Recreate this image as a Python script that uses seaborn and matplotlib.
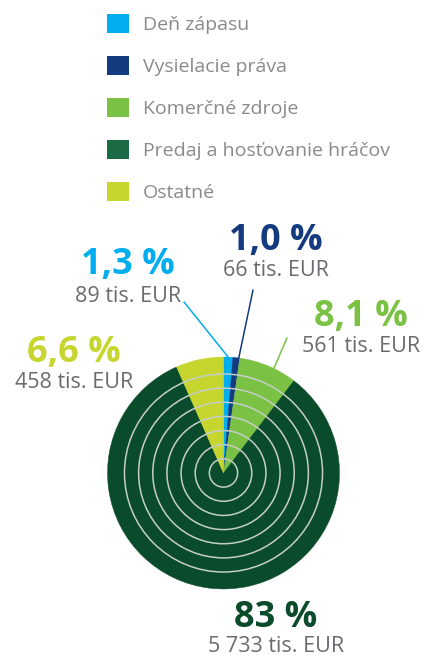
import numpy as np
import seaborn as sns
import matplotlib.pyplot as plt
from matplotlib.patches import Patch, Circle

# data
categories = ['Deň zápasu', 'Vysielacie práva', 'Komerčné zdroje',
              'Predaj a hosťovanie hráčov', 'Ostatné']
values_tis_eur = [89, 66, 561, 5733, 458]
pct_labels = ['1,3 %', '1,0 %', '8,1 %', '83 %', '6,6 %']
value_labels = ['89 tis. EUR', '66 tis. EUR', '561 tis. EUR', '5 733 tis. EUR', '458 tis. EUR']
colors = ['#00aeef', '#143a80', '#7bc143', '#0a4b2b', '#c6d62e']
legend_colors = ['#00aeef', '#143a80', '#7bc143', '#1a6b44', '#c6d62e']

sns.set_theme(style='white')
plt.rcParams['font.family'] = ['Open Sans', 'DejaVu Sans']

W, H = 424, 658
fig = plt.figure(figsize=(W / 100, H / 100), dpi=100)
ax = fig.add_axes([0, 0, 1, 1])


def Y(y):
    # pixel coords from top -> axis coords
    return H - y


cx, cy, R = 223.5, 473, 116
wedges, _ = ax.pie(values_tis_eur, colors=colors, startangle=90, counterclock=False,
                   center=(cx, Y(cy)), radius=R, frame=True,
                   wedgeprops=dict(linewidth=0))
for w, c in zip(wedges, colors):
    w.set_edgecolor(c)
    w.set_linewidth(0.3)
ax.set_xlim(0, W)
ax.set_ylim(0, H)
ax.axis('off')

# concentric rings
for k in range(1, 8):
    ax.add_patch(Circle((cx, Y(cy)), R * k / 8.2, fill=False,
                        edgecolor='#c4cec7', linewidth=1.1, zorder=3))

# labels: (x center, y of pct, y of value)
label_pos = [(128, 265, 297), (276, 241, 270), (361, 317, 347), (276, 618, 647), (74, 353, 382)]
for i, (lx, py, vy) in enumerate(label_pos):
    ax.text(lx, Y(py), pct_labels[i], color=colors[i],
            fontsize=26, fontweight='bold', ha='center', va='center')
    ax.text(lx, Y(vy), value_labels[i], color='#6a6b6e', fontsize=15.5,
            ha='center', va='center')

# leader lines from label to wedge
line_starts = {0: (184, 302), 1: (253, 290), 2: (287, 338)}
line_offsets = {0: 0.0, 1: -1.2, 2: -3.0}
for i, (sx, sy) in line_starts.items():
    w = wedges[i]
    ang = np.deg2rad((w.theta1 + w.theta2) / 2 + line_offsets[i])
    ex, ey = cx + R * np.cos(ang), Y(cy) + R * np.sin(ang)
    ax.plot([sx, ex], [Y(sy), ey], color=colors[i], linewidth=1.1, zorder=4)

handles = [Patch(facecolor=c, edgecolor='none') for c in legend_colors]
leg = fig.legend(handles, categories, loc='upper left',
                 bbox_to_anchor=(107 / W, 1 - 14 / H), bbox_transform=fig.transFigure,
                 frameon=False, borderpad=0, borderaxespad=0,
                 handlelength=1.15, handleheight=1.15, handletextpad=0.7,
                 labelspacing=1.12, prop={'size': 14})
for t in leg.get_texts():
    t.set_color('#8a8a8a')

fig.savefig('out.png', dpi=100)
